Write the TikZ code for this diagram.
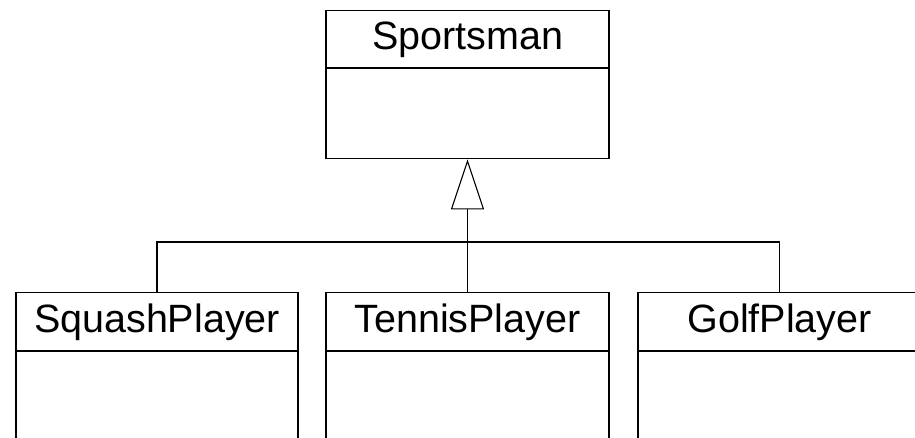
\documentclass[tikz,border=0pt]{standalone}
\usepackage{fontspec}
\setmainfont{Liberation Sans}
\usetikzlibrary{arrows.meta}
\begin{document}
\begin{tikzpicture}[x=1pt,y=-1pt,
  head/.style={draw=black, line width=1.2pt, inner sep=0pt, text height=39.5pt, text depth=18pt,
    font=\fontsize{39.5}{41}\selectfont, anchor=north},
  body/.style={draw=black, line width=1.2pt, inner sep=0pt, anchor=north},
  link/.style={draw=black, line width=1.1pt}]
\useasboundingbox (0,0) rectangle (915,437);
\clip (0,0) rectangle (915,437);
\node[head, minimum width=283pt] (sp) at (467.5,9.5) {Sportsman};
\node[body, minimum width=283pt, minimum height=90pt] (spb) at (sp.south) {};
\node[head, minimum width=282pt] (sq) at (157,292) {SquashPlayer};
\node[body, minimum width=282pt, minimum height=120pt] (sqb) at (sq.south) {};
\node[head, minimum width=283pt] (tp) at (467.5,292) {TennisPlayer};
\node[body, minimum width=283pt, minimum height=120pt] (tpb) at (tp.south) {};
\node[head, minimum width=283pt] (gp) at (779.5,292) {GolfPlayer};
\node[body, minimum width=283pt, minimum height=120pt] (gpb) at (gp.south) {};
\coordinate (j) at (467.5,242);
\draw[link, -{Triangle[open, length=50pt, width=33pt, line width=1.1pt]}] (tp.north) -- (spb.south);
\draw[link] (sq.north) |- (j) -| (gp.north);
\end{tikzpicture}
\end{document}
